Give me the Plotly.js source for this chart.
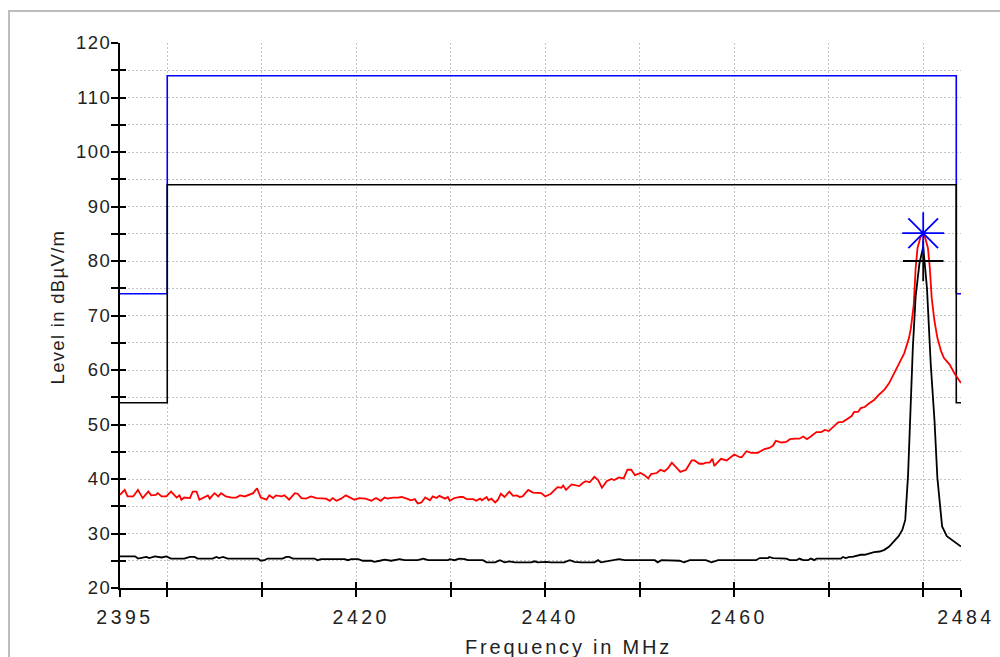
<!DOCTYPE html>
<html><head><meta charset="utf-8">
<script src="https://cdn.plot.ly/plotly-3.0.1.min.js"></script>
<style>
html,body{margin:0;padding:0;background:#fff;overflow:hidden}
#chart{width:1000px;height:657px}
#frame{position:absolute;left:8px;top:10px;width:1200px;height:900px;border-left:2px solid #bdbdbd;border-top:2px solid #bdbdbd;pointer-events:none;z-index:5}
.xtick text{letter-spacing:3.5px}
.ytick text{letter-spacing:1.5px}
g.annotation[data-index="0"] text{letter-spacing:2.8px}
g.annotation[data-index="1"] text{letter-spacing:1.3px}
</style></head>
<body>
<div id="frame"></div>
<div id="chart"></div>
<script>
// ---- data ----
var limitFreq = [2395, 2400, 2483.5, 2484];
var peakLimit = [74, 114, 74, 74];
var avgLimit = [54, 94, 54, 54];

var peakFreq = [2395.0,2395.5,2395.8,2396.4,2396.9,2397.4,2398.0,2398.3,2398.8,2399.0,2399.4,2399.9,2400.4,2401.0,2401.3,2401.5,2401.8,2402.4,2402.7,2403.1,2403.4,2404.0,2404.3,2404.5,2405.0,2405.4,2405.7,2406.2,2406.8,2407.3,2407.7,2408.2,2408.7,2409.1,2409.5,2409.9,2410.5,2410.8,2411.2,2411.5,2412.1,2412.4,2412.9,2413.5,2413.8,2414.2,2414.7,2415.2,2415.8,2416.3,2416.8,2417.2,2417.5,2417.9,2418.4,2418.9,2419.5,2419.8,2420.3,2421.0,2421.6,2422.1,2422.6,2423.0,2423.3,2423.9,2424.4,
2424.8,2425.5,2425.8,2426.2,2426.5,2426.9,2427.3,2427.8,2428.1,2428.5,2428.8,2429.4,2429.7,2429.9,2430.4,2431.0,2431.3,2431.7,2432.4,2432.7,2433.1,2433.3,2433.8,2434.0,2434.3,2434.7,2435.0,2435.3,2435.7,2436.2,2436.6,2437.0,2437.3,2437.6,2438.2,2438.7,2439.2,2439.6,2440.0,2440.6,2441.3,2441.7,2441.9,2442.2,2442.8,2443.3,2443.6,2444.0,2444.3,2444.7,2445.2,2445.6,2446.0,2446.5,2447.0,2447.3,2447.8,2448.3,2448.7,2449.1,2449.5,2450.1,2450.5,2450.9,2451.2,2451.8,2452.2,2452.6,2453.0,2453.4,2453.9,2454.3,
2454.9,2455.5,2455.8,2456.3,2456.7,2457.0,2457.4,2457.7,2457.9,2458.6,2459.2,2460.0,2460.6,2460.8,2461.3,2461.8,2462.5,2463.2,2463.7,2464.1,2464.4,2465.0,2465.5,2465.9,2466.4,2466.9,2467.3,2467.7,2468.1,2468.7,2469.2,2469.6,2470.0,2470.4,2471.0,2471.5,2472.0,2472.4,2472.7,2473.1,2473.4,2473.8,2474.3,2474.8,2475.4,
2475.9,2476.4,2476.9,2477.5,2478.0,2478.5,2478.7,2479.0,2479.2,2479.4,2479.7,2480.0,2480.2,2480.5,2480.7,2480.9,2481.2,2481.5,2481.9,2482.2,2482.8,2483.3,2483.8,2484.0];
var peakLevel = [37.1,38.0,36.8,36.8,38.0,36.5,37.7,37.0,37.1,37.4,36.8,36.8,37.7,36.6,37.0,36.2,36.6,36.5,37.7,37.7,36.2,36.8,37.0,36.4,37.4,36.8,37.4,36.8,36.6,36.6,37.0,36.8,37.1,37.4,38.3,36.6,36.2,37.0,36.5,37.0,36.8,37.0,36.2,37.4,37.3,36.5,36.4,36.8,36.5,36.4,36.4,36.0,36.5,36.0,36.4,37.0,36.5,36.2,36.5,36.4,36.0,36.5,36.0,36.6,36.4,36.6,36.6,
36.7,36.3,36.1,36.3,35.5,35.7,36.6,36.1,36.8,36.5,36.9,36.4,36.7,36.0,36.5,36.7,36.7,36.3,36.3,36.0,36.4,36.1,36.7,36.1,36.4,35.7,36.2,37.3,36.7,37.7,36.9,37.0,36.7,36.8,38.0,37.5,37.4,37.4,36.8,37.3,38.5,38.4,38.8,38.0,39.0,38.8,38.7,39.3,39.6,39.4,40.4,39.8,38.4,39.6,40.0,39.8,40.3,40.1,41.7,41.7,40.7,41.1,40.7,40.1,40.9,41.1,41.7,41.4,42.0,43.0,42.0,41.3,
41.7,43.4,43.4,42.8,42.8,43.0,43.0,43.7,42.4,43.7,43.4,44.5,44.0,44.0,45.1,44.8,44.8,45.5,45.7,46.1,47.0,46.7,46.8,47.3,47.4,47.4,47.8,47.3,47.8,48.6,48.6,49.0,48.8,49.4,50.4,50.5,51.0,51.5,52.3,52.3,53.0,53.2,53.9,54.5,55.6,
56.4,57.6,59.4,61.6,63.1,65.9,67.7,72.0,78.7,82.4,84.3,85.0,84.3,82.4,78.7,73.2,68.9,65.9,63.4,62.2,61.0,59.4,58.2,57.6];

var avgFreq = [2395.0,2396.6,2396.9,2397.4,2397.8,2398.1,2398.7,2399.4,2399.9,2400.4,2401.8,2402.4,2402.9,2403.2,2404.8,2405.2,2405.5,2405.9,2406.4,2409.6,2409.9,2410.3,2410.6,2412.2,2412.6,2412.9,2413.3,2415.6,2415.9,2416.3,2418.8,2419.1,2419.5,2420.2,2420.7,2421.6,2421.9,2422.5,2423.0,2423.7,2424.1,2424.6,2425.1,2426.5,2427.1,2427.6,2429.7,2429.9,2430.4,2430.9,2431.5,2431.8,2433.4,2433.8,2434.7,2435.2,2435.7,2436.2,2436.8,2438.5,2438.9,2439.2,2440.1,2440.6,2442.0,2442.6,2443.1,2443.8,2445.2,2445.6,2445.9,2447.3,2447.8,2448.4,2451.6,2451.9,2452.3,2454.2,2454.7,2455.3,2457.0,2457.6,2457.9,2458.3,2462.3,2462.7,2463.6,2463.7,2464.1,2465.5,2465.9,2466.6,2466.9,2467.3,2467.8,2468.1,2468.5,2468.7,2471.3,2471.5,2471.8,2472.2,2472.5,2473.1,2473.4,2473.8,2474.3,2474.8,2475.4,2475.9,2476.4,2476.9,2477.4,2477.8,2478.1,2478.4,2478.6,2478.9,2479.2,2479.6,2480.0,2480.4,2480.8,2481.2,2481.5,2481.8,2482.0,2482.5,2483.1,2483.6,2484.0];
var avgLevel = [25.8,25.8,25.4,25.5,25.7,25.5,25.8,25.6,25.8,25.4,25.4,25.7,25.7,25.4,25.4,25.7,25.5,25.7,25.4,25.4,25.0,25.1,25.4,25.4,25.7,25.7,25.4,25.4,25.1,25.3,25.3,25.1,25.3,25.3,25.0,25.0,24.8,25.0,25.2,25.0,25.1,25.3,25.1,25.1,25.4,25.1,25.1,25.3,25.1,25.4,25.3,25.1,25.1,24.7,24.7,25.1,24.7,24.9,24.7,24.7,24.9,24.7,24.8,24.7,24.7,25.1,24.8,24.7,24.7,25.1,24.7,25.1,25.3,25.1,25.1,24.7,25.1,25.0,24.7,25.1,25.1,24.7,24.9,25.1,25.1,25.5,25.5,25.7,25.5,25.4,25.1,25.1,25.4,25.1,25.1,25.4,25.1,25.4,25.4,25.7,25.5,25.7,25.7,26.0,26.1,26.1,26.4,26.6,26.7,27.0,27.6,28.6,29.5,30.7,32.5,40.8,51.8,64.0,73.5,79.5,82.6,75.0,61.0,50.6,40.2,35.3,31.3,29.5,28.7,28.1,27.6];

var peakMarkerFreq = [2480.0];
var peakMarkerLevel = [85.1];
var avgMarkerFreq = [2480.0];
var avgMarkerLevel = [80.0];

var xTickVals = [2395, 2400, 2410, 2420, 2430, 2440, 2450, 2460, 2470, 2480, 2484];
var xTickText = ['2395', '', '', '2420', '', '2440', '', '2460', '', '', '2484'];
var yTickVals = [20,25,30,35,40,45,50,55,60,65,70,75,80,85,90,95,100,105,110,115,120];
var yTickText = ['20','','30','','40','','50','','60','','70','','80','','90','','100','','110','','120'];

var xTitle = 'Frequency in MHz';
var yTitle = 'Level in dB\u00b5V/m';

// ---- chart ----
var FONT = 'Liberation Sans, Arial, Helvetica, sans-serif';
var traces = [
  {x: limitFreq, y: peakLimit, mode: 'lines', line: {shape: 'hv', color: '#0000ff', width: 1.6}, hoverinfo: 'skip'},
  {x: limitFreq, y: avgLimit, mode: 'lines', line: {shape: 'hv', color: '#000000', width: 1.6}, hoverinfo: 'skip'},
  {x: peakFreq, y: peakLevel, mode: 'lines', line: {color: '#ff0000', width: 1.8}},
  {x: avgFreq, y: avgLevel, mode: 'lines', line: {color: '#000000', width: 1.8}},
  {x: avgMarkerFreq, y: avgMarkerLevel, xaxis: 'x2', yaxis: 'y2', mode: 'markers',
   marker: {symbol: 'cross-thin-open', size: 29, color: '#000000', line: {color: '#000000', width: 1.8}}},
  {x: peakMarkerFreq, y: peakMarkerLevel, xaxis: 'x2', yaxis: 'y2', mode: 'markers',
   marker: {symbol: 'asterisk-open', size: 35, color: '#0000ff', line: {color: '#0000ff', width: 1.8}}}
];

var common = {
  showline: true, linecolor: '#000', linewidth: 2,
  ticks: 'outside', ticklen: 7, tickwidth: 2, tickcolor: '#000',
  showgrid: true, gridcolor: '#c4c4c4', gridwidth: 1, griddash: '2px,2px',
  zeroline: false, fixedrange: true
};
var overlay = {
  showline: false, ticks: 'inside', ticklen: 6, tickwidth: 2, tickcolor: '#000',
  showgrid: false, zeroline: false, showticklabels: false, fixedrange: true
};

var layout = {
  width: 1000, height: 657,
  margin: {l: 120, r: 39, t: 43, b: 69},
  paper_bgcolor: '#ffffff', plot_bgcolor: '#ffffff',
  showlegend: false,
  xaxis: Object.assign({}, common, {
    range: [2395, 2484], tickmode: 'array', tickvals: xTickVals, ticktext: xTickText,
    tickfont: {family: FONT, size: 19.5, color: '#222'}, ticklabelstandoff: 4, ticklabelshift: 5
  }),
  yaxis: Object.assign({}, common, {
    range: [20, 120], tickmode: 'array', tickvals: yTickVals, ticktext: yTickText,
    tickfont: {family: FONT, size: 18.5, color: '#222'}, ticklabelstandoff: -4
  }),
  xaxis2: Object.assign({}, overlay, {range: [2395, 2484], overlaying: 'x', anchor: 'y2', side: 'bottom', tickmode: 'array', tickvals: xTickVals}),
  yaxis2: Object.assign({}, overlay, {range: [20, 120], overlaying: 'y', anchor: 'x2', side: 'left', tickmode: 'array', tickvals: yTickVals}),
  annotations: [
    {text: xTitle, xref: 'paper', yref: 'paper', x: 0.4078, y: -0.1085, xanchor: 'left', yanchor: 'middle', align: 'left',
     showarrow: false, font: {family: FONT, size: 20, color: '#222'}},
    {text: yTitle, xref: 'paper', yref: 'paper', x: -0.0749, y: 0.369, xanchor: 'center', yanchor: 'bottom', align: 'left',
     textangle: -90, showarrow: false, font: {family: FONT, size: 18.5, color: '#222'}}
  ]
};

Plotly.newPlot('chart', traces, layout, {displayModeBar: false, staticPlot: true});
</script>
</body></html>
